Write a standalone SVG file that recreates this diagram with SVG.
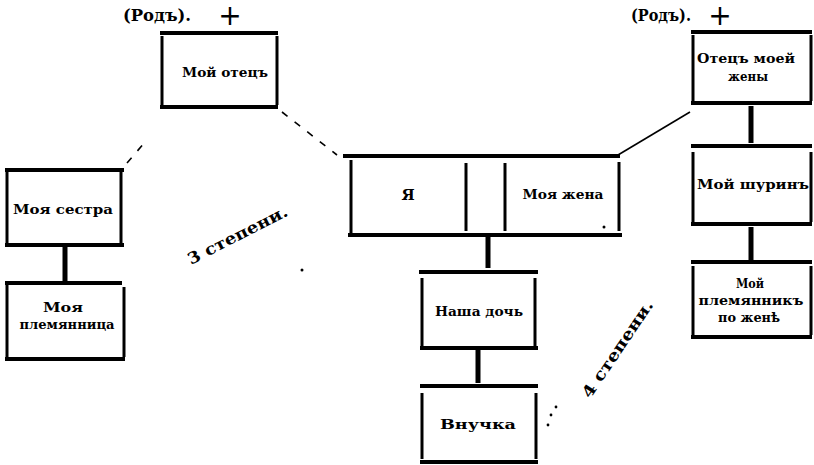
<svg xmlns="http://www.w3.org/2000/svg" width="814" height="465" viewBox="0 0 814 465">
<style>
.h{stroke:#000;stroke-width:4;fill:none}
.v{stroke:#000;stroke-width:3;fill:none}
.c{stroke:#000;stroke-width:5;fill:none}
.d{stroke:#000;stroke-width:1.6;fill:none;stroke-dasharray:7 9}
.s{stroke:#000;stroke-width:1.6;fill:none}
text{font-family:"DejaVu Serif","Liberation Serif",serif;font-weight:bold;font-size:12px;fill:#000;text-anchor:middle}
.big{font-size:17px}
.plus{font-family:"DejaVu Sans",sans-serif;font-size:28px;font-weight:normal}
.deg{font-size:16px}
</style>
<rect width="814" height="465" fill="#fff"/>
<g id="connectors">
<line class="d" x1="282" y1="112" x2="337" y2="155"/>
<line class="d" x1="127" y1="163" x2="146" y2="141"/>
<line class="s" x1="618" y1="155" x2="690" y2="112"/>
<line class="c" x1="65" y1="246" x2="65" y2="281"/>
<line class="c" x1="488" y1="236" x2="488" y2="268"/>
<line class="c" x1="478" y1="350" x2="478" y2="383"/>
<line class="c" x1="751" y1="106" x2="751" y2="143"/>
<line class="c" x1="751" y1="227" x2="751" y2="260"/>
</g>
<g id="rod1"><text class="big" x="157" y="21" textLength="68" lengthAdjust="spacingAndGlyphs">(Родъ).</text><text class="plus" x="230" y="25">+</text></g>
<g id="rod2"><text class="big" x="661" y="21" textLength="60" lengthAdjust="spacingAndGlyphs">(Родъ).</text><text class="plus" x="720" y="25">+</text></g>
<g id="otec">
<line class="h" x1="160" y1="33" x2="278" y2="33"/><line class="h" x1="160" y1="107" x2="278" y2="107"/>
<line class="v" x1="162" y1="36" x2="162" y2="105"/><line class="v" x1="277" y1="36" x2="277" y2="105"/>
<text x="225" y="77" textLength="86" lengthAdjust="spacingAndGlyphs">Мой отецъ</text>
</g>
<g id="sestra">
<line class="h" x1="5" y1="170" x2="124" y2="170"/><line class="h" x1="5" y1="245" x2="124" y2="245"/>
<line class="v" x1="7" y1="172" x2="7" y2="243"/><line class="v" x1="121" y1="172" x2="121" y2="243"/>
<text x="63" y="214" textLength="100" lengthAdjust="spacingAndGlyphs">Моя сестра</text>
</g>
<g id="plemyannica">
<line class="h" x1="5" y1="283" x2="122" y2="283"/><line class="h" x1="5" y1="359" x2="125" y2="359"/>
<line class="v" x1="7" y1="285" x2="7" y2="357"/><line class="v" x1="124" y1="287" x2="124" y2="357"/>
<text x="63" y="312" textLength="40" lengthAdjust="spacingAndGlyphs">Моя</text><text x="67" y="329" textLength="95" lengthAdjust="spacingAndGlyphs">племянница</text>
</g>
<g id="ya-zhena">
<line class="h" x1="343" y1="156" x2="620" y2="156"/><line class="h" x1="348" y1="235" x2="622" y2="235"/>
<line class="v" x1="351" y1="160" x2="351" y2="233"/><line class="v" x1="466" y1="163" x2="466" y2="231"/>
<line class="v" x1="505" y1="163" x2="505" y2="231"/><line class="v" x1="619" y1="162" x2="619" y2="231"/>
<text x="408" y="200" style="font-size:15px">Я</text>
<text x="563" y="199" textLength="81" lengthAdjust="spacingAndGlyphs">Моя жена</text>
<circle cx="604" cy="227" r="1.5" fill="#000"/>
</g>
<g id="doch">
<line class="h" x1="419" y1="272" x2="538" y2="272"/><line class="h" x1="420" y1="348" x2="538" y2="348"/>
<line class="v" x1="422" y1="278" x2="422" y2="346"/><line class="v" x1="535" y1="278" x2="535" y2="346"/>
<text x="479" y="316" textLength="88" lengthAdjust="spacingAndGlyphs">Наша дочь</text>
</g>
<g id="vnuchka">
<line class="h" x1="420" y1="386" x2="538" y2="386"/><line class="h" x1="420" y1="462" x2="538" y2="462"/>
<line class="v" x1="422" y1="393" x2="422" y2="459"/><line class="v" x1="536" y1="393" x2="536" y2="459"/>
<text x="478" y="429" textLength="76" lengthAdjust="spacingAndGlyphs">Внучка</text>
</g>
<g id="dots">
<circle cx="548" cy="425" r="1.4" fill="#000"/><circle cx="551" cy="415" r="1.4" fill="#000"/><circle cx="556" cy="407" r="1.4" fill="#000"/>
<circle cx="302" cy="270" r="1.5" fill="#000"/>
</g>
<g id="otec-zheny">
<line class="h" x1="691" y1="32" x2="812" y2="32"/><line class="h" x1="691" y1="103" x2="812" y2="103"/>
<line class="v" x1="693" y1="35" x2="693" y2="101"/><line class="v" x1="811" y1="35" x2="811" y2="101"/>
<text x="746" y="63" textLength="98" lengthAdjust="spacingAndGlyphs">Отецъ моей</text><text x="748" y="81" textLength="40" lengthAdjust="spacingAndGlyphs">жены</text>
</g>
<g id="shurin">
<line class="h" x1="691" y1="146" x2="812" y2="146"/><line class="h" x1="691" y1="224" x2="812" y2="224"/>
<line class="v" x1="693" y1="152" x2="693" y2="222"/><line class="v" x1="811" y1="152" x2="811" y2="222"/>
<text x="753" y="189" textLength="112" lengthAdjust="spacingAndGlyphs">Мой шуринъ</text>
</g>
<g id="plemyannik">
<line class="h" x1="691" y1="262" x2="812" y2="262"/><line class="h" x1="691" y1="337" x2="812" y2="337"/>
<line class="v" x1="693" y1="266" x2="693" y2="335"/><line class="v" x1="811" y1="266" x2="811" y2="335"/>
<text x="750" y="288" textLength="28" lengthAdjust="spacingAndGlyphs">Мой</text><text x="751" y="305" textLength="105" lengthAdjust="spacingAndGlyphs">племянникъ</text><text x="749" y="322" textLength="62" lengthAdjust="spacingAndGlyphs">по женѣ</text>
</g>
<g id="deg3"><text class="deg" transform="translate(240 240) rotate(-27)" textLength="110" lengthAdjust="spacingAndGlyphs">3 степени.</text></g>
<g id="deg4"><text class="deg" transform="translate(622 352) rotate(-56)" textLength="114" lengthAdjust="spacingAndGlyphs">4 степени.</text></g>
</svg>
